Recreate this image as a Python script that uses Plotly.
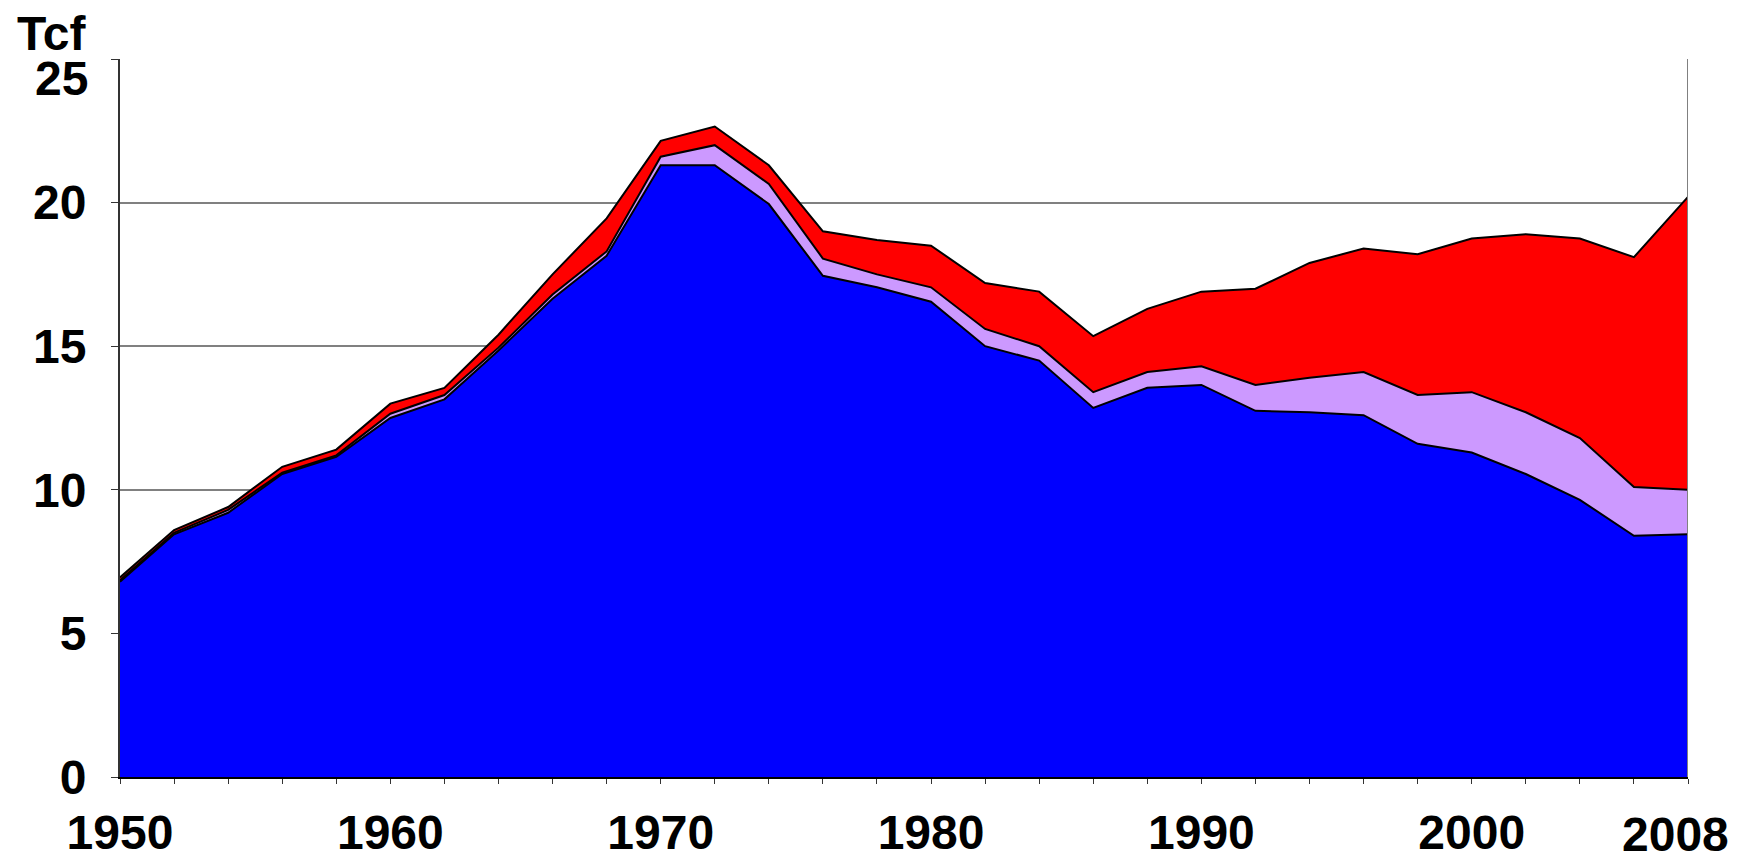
import plotly.graph_objects as go

years = list(range(1950, 2009, 2))
conventional = [6.8, 8.45, 9.2, 10.55, 11.15, 12.5, 13.15, 14.85, 16.65, 18.15,
                21.3, 21.3, 19.95, 17.45, 17.05, 16.55, 15.0, 14.5, 12.85, 13.55,
                13.65, 12.75, 12.7, 12.6, 11.6, 11.3, 10.55, 9.65, 8.4, 8.45]
coalbed = [0.05, 0.05, 0.1, 0.05, 0.05, 0.15, 0.15, 0.1, 0.15, 0.15,
           0.3, 0.7, 0.7, 0.6, 0.45, 0.5, 0.6, 0.5, 0.55, 0.55,
           0.65, 0.9, 1.2, 1.5, 1.7, 2.1, 2.15, 2.15, 1.7, 1.55]
unconventional = [0.1, 0.1, 0.1, 0.2, 0.2, 0.35, 0.25, 0.45, 0.7, 1.15,
                  0.55, 0.65, 0.65, 0.95, 1.2, 1.45, 1.6, 1.9, 1.95, 2.2,
                  2.6, 3.35, 4.0, 4.3, 4.9, 5.35, 6.2, 6.95, 8.0, 10.2]

x_labels = {1950: "1950", 1960: "1960", 1970: "1970", 1980: "1980",
            1990: "1990", 2000: "2000"}
last_label = "2008"
y_ticks = [0, 5, 10, 15, 20, 25]

series = [
    ("Conventional", conventional, "#0000FF"),
    ("Coalbed methane", coalbed, "#CC99FF"),
    ("Unconventional", unconventional, "#FF0000"),
]

FONT = "Liberation Sans, Arial, sans-serif"
FS = 48
tfont = dict(family=FONT, size=FS, color="black", weight="bold")

fig = go.Figure()
for name, vals, col in series:
    fig.add_trace(go.Scatter(
        x=years, y=vals, name=name, mode="lines", stackgroup="one",
        line=dict(color="black", width=2), fillcolor=col,
    ))

# page body has an 8px margin, so the figure is 8px smaller and margins shifted
fig.update_layout(
    width=1740, height=849,
    margin=dict(l=112, r=60, t=51, b=80, autoexpand=False),
    paper_bgcolor="white", plot_bgcolor="white",
    showlegend=False,
    font=tfont,
)

fig.update_xaxes(
    range=[1950, 2008],
    automargin=False,
    tickmode="array",
    tickvals=years,
    ticktext=[x_labels.get(y, "") for y in years],
    ticks="outside", ticklen=5, tickwidth=1, tickcolor="#333333",
    ticklabelstandoff=7,
    showgrid=False, zeroline=False,
    showline=True, linecolor="black", linewidth=2,
    tickfont=tfont,
)

fig.update_yaxes(
    range=[0, 25],
    automargin=False,
    tickmode="array",
    tickvals=y_ticks,
    ticktext=[str(v) if v != 25 else "" for v in y_ticks],
    ticks="outside", ticklen=7, tickwidth=1, tickcolor="#333333",
    ticklabelstandoff=15,
    showgrid=True, gridcolor="#808080", gridwidth=2,
    zeroline=False,
    showline=True, linecolor="#333333", linewidth=2,
    tickfont=tfont,
)

# right border of the plot area
fig.add_shape(type="line", xref="x", yref="paper", x0=2008, x1=2008, y0=0, y1=1,
              line=dict(color="#808080", width=2), layer="above")

# "25" label sits a little below its gridline in the original
fig.add_annotation(xref="paper", yref="y", x=0, y=25, xanchor="right", yanchor="middle",
                   xshift=-30, yshift=-19, text="25", showarrow=False, font=tfont)

# last year label is nudged left to stay inside the page
fig.add_annotation(xref="x", yref="paper", x=2008, y=0, xanchor="center", yanchor="middle",
                   xshift=-13, yshift=-57, text=last_label, showarrow=False, font=tfont)

fig.add_annotation(xref="paper", yref="paper", x=-0.067, y=1.036, xanchor="left",
                   yanchor="middle", text="Tcf", showarrow=False, font=tfont)

fig.write_html("out.html")
